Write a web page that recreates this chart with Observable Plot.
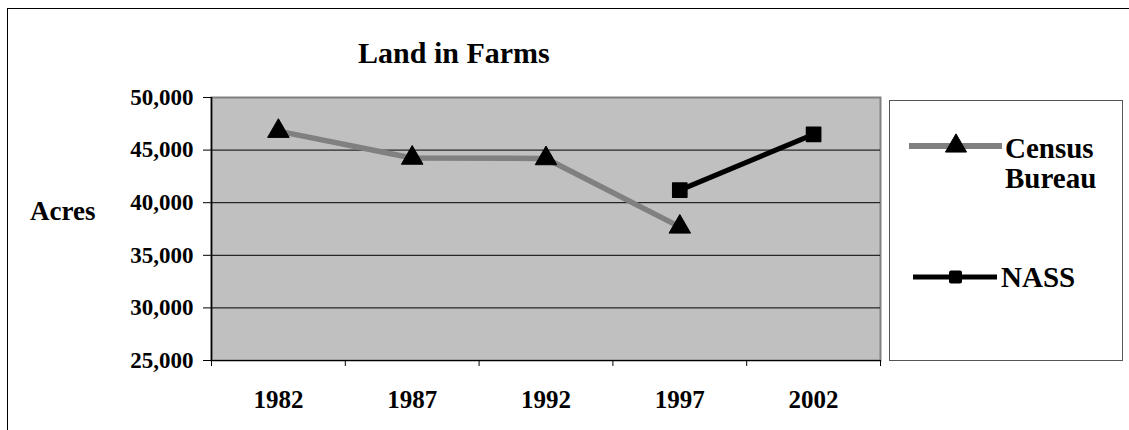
<!DOCTYPE html>
<html><head><meta charset="utf-8">
<script src="https://cdn.jsdelivr.net/npm/d3@7"></script>
<script src="https://cdn.jsdelivr.net/npm/@observablehq/plot@0.6"></script>
<style>
body{margin:0;background:#fff;font-family:"Liberation Serif","Times New Roman",serif;font-weight:bold;color:#000;}
#wrap{position:relative;width:1129px;height:430px;overflow:hidden;}
#chart{position:absolute;left:0;top:0;}
#border{position:absolute;left:7px;top:8px;width:1140px;height:440px;border:1.5px solid #000;box-sizing:border-box;}
#title{position:absolute;left:358px;top:38px;font-size:30px;line-height:1;white-space:nowrap;}
#ylab{position:absolute;left:30px;top:198px;font-size:27px;line-height:1;}
#legend{position:absolute;left:889px;top:100px;width:234px;height:261px;border:1.5px solid #555;box-sizing:border-box;background:#fff;}
.lt{position:absolute;font-size:29px;line-height:29px;white-space:nowrap;}
</style></head><body>
<div id="wrap">
  <div id="chart"></div>
  <div id="border"></div>
  <div id="title">Land in Farms</div>
  <div id="ylab">Acres</div>
  <div id="legend"></div>
</div>
<script>
const years = [1982, 1987, 1992, 1997, 2002];
const censusYears = [1982, 1987, 1992, 1997];
const censusAcres = [46800, 44250, 44200, 37700];
const nassYears = [1997, 2002];
const nassAcres = [41200, 46500];
const yTicks = [25000, 30000, 35000, 40000, 45000, 50000];
const seriesNames = ["Census Bureau", "NASS"];

const census = censusYears.map((year, i) => ({year, acres: censusAcres[i]}));
const nass = nassYears.map((year, i) => ({year, acres: nassAcres[i]}));
const half = (years[1] - years[0]) / 2;
const xDomain = [years[0] - half, years[years.length - 1] + half];
const boundaries = years.map(y => y - half).concat([xDomain[1]]);

const chart = Plot.plot({
  width: 1129, height: 430,
  marginLeft: 211, marginRight: 249, marginTop: 97, marginBottom: 70,
  style: {fontFamily: '"Liberation Serif","Times New Roman",serif', fontWeight: "bold", background: "transparent", color: "#000"},
  x: {type: "linear", domain: xDomain, axis: null},
  y: {domain: [yTicks[0], yTicks[yTicks.length - 1]], axis: null},
  marks: [
    Plot.frame({fill: "#c0c0c0", stroke: "#808080", strokeWidth: 2}),
    Plot.gridY(yTicks.slice(1, -1), {stroke: "#000", strokeOpacity: 1, strokeWidth: 1}),
    Plot.ruleX([xDomain[0]], {stroke: "#000", strokeWidth: 1.5}),
    Plot.ruleY([yTicks[0]], {stroke: "#000", strokeWidth: 1}),
    Plot.axisY(yTicks, {tickSize: 8, tickPadding: 10, tickFormat: d3.format(","), fontSize: 23, fontWeight: "bold", label: null}),
    Plot.axisX(boundaries, {tickSize: 6, tickFormat: () => "", label: null}),
    Plot.axisX(years, {tickSize: 0, tickPadding: 30, tickFormat: d => String(d), fontSize: 25, fontWeight: "bold", label: null}),
    Plot.line(census, {x: "year", y: "acres", stroke: "#808080", strokeWidth: 5.5}),
    Plot.line(nass, {x: "year", y: "acres", stroke: "#000", strokeWidth: 5}),
    Plot.dot(census, {x: "year", y: "acres", symbol: "triangle", r: 8, fill: "#000", stroke: "#000", strokeWidth: 1, strokeLinejoin: "round"}),
    Plot.dot(nass, {x: "year", y: "acres", symbol: "square", r: 8, fill: "#000", stroke: "#000", strokeWidth: 1.5, strokeLinejoin: "round"})
  ]
});
document.getElementById("chart").appendChild(chart);

// Legend
const leg = document.getElementById("legend");
const ns = "http://www.w3.org/2000/svg";
const sw = document.createElementNS(ns, "svg");
sw.setAttribute("width", 234); sw.setAttribute("height", 261);
sw.style.position = "absolute"; sw.style.left = "-1.5px"; sw.style.top = "-1.5px";
sw.innerHTML =
  '<line x1="20" x2="113" y1="46" y2="46" stroke="#808080" stroke-width="6"/>' +
  '<path d="' + d3.symbol(d3.symbolTriangle, 191)() + '" transform="translate(67,46)" fill="#000" stroke="#000" stroke-linejoin="round"/>' +
  '<line x1="24" x2="108" y1="177" y2="177" stroke="#000" stroke-width="5"/>' +
  '<rect x="60" y="170.5" width="13" height="13" rx="2" fill="#000"/>';
leg.appendChild(sw);
const words = seriesNames[0].split(" ");
words.forEach((w, i) => {
  const t = document.createElement("div");
  t.className = "lt"; t.style.left = "115px"; t.style.top = (33 + i * 30) + "px";
  t.textContent = w;
  leg.appendChild(t);
});
const t2 = document.createElement("div");
t2.className = "lt"; t2.style.left = "111px"; t2.style.top = "162px";
t2.textContent = seriesNames[1];
leg.appendChild(t2);
</script>
</body></html>
